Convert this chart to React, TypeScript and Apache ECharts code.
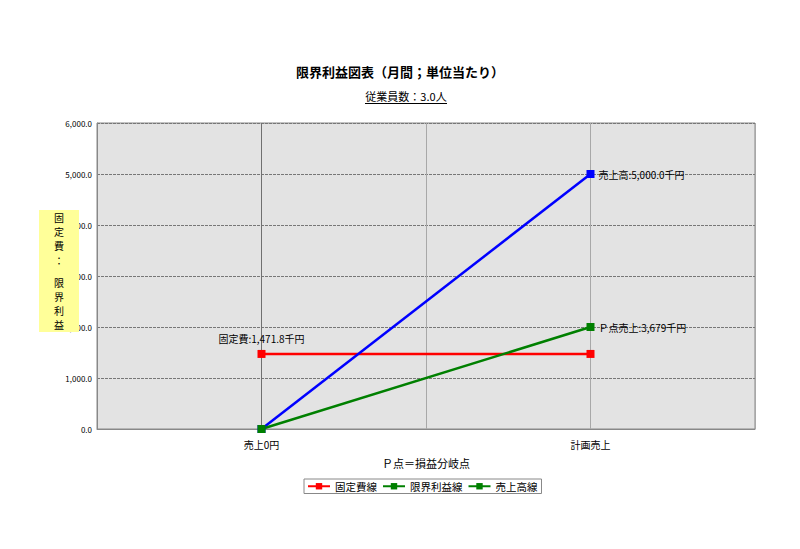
import React, { useEffect, useRef } from "react";
import * as echarts from "echarts";

const categories = ["", "売上0円", "", "計画売上", ""];
const fixedCost = [null, 1471.8, null, 1471.8, null];
const sales = [null, 0, null, 5000, null];
const marginalProfit = [null, 0, null, 2000, null];
const breakEvenSales = 3679;
const yTicks = { min: 0, max: 6000, interval: 1000 };
const yNameChars = ["固", "定", "費", "：", "限", "界", "利", "益"];

const fmt1 = (v: number) =>
  v.toLocaleString("en-US", { minimumFractionDigits: 1, maximumFractionDigits: 1 });

const FONT = "'Noto Sans CJK JP', 'Noto Sans', sans-serif";

export default function App() {
  const ref = useRef<HTMLDivElement>(null);
  useEffect(() => {
    if (!ref.current) return;
    const chart = echarts.init(ref.current, undefined, { renderer: "svg" });
    const labelStyle = { color: "#000", fontSize: 10, fontFamily: FONT };
    const yNameOffsets = [217, 231, 245, 260, 282, 296, 310, 324];
    const option: any = {
      animation: false,
      backgroundColor: "#fff",
      textStyle: { fontFamily: FONT },
      title: {
        text: "限界利益図表（月間；単位当たり）",
        left: "center",
        top: 60,
        textStyle: { fontSize: 13, fontWeight: "bold", color: "#000", fontFamily: FONT },
      },
      grid: {
        left: 97,
        right: 45,
        top: 123,
        bottom: 120,
        show: true,
        backgroundColor: "#e3e3e3",
        borderColor: "#888",
        borderWidth: 1,
      },
      xAxis: {
        type: "category",
        data: categories,
        boundaryGap: false,
        axisLine: { show: true, lineStyle: { color: "#888" } },
        axisTick: { show: false },
        axisLabel: { color: "#000", fontSize: 10, margin: 10, fontFamily: FONT, interval: 0 },
        splitLine: {
          show: true,
          lineStyle: { color: ["#a8a8a8", "#707070", "#a8a8a8", "#a8a8a8", "#a8a8a8"], width: 1 },
        },
        name: "Ｐ点＝損益分岐点",
        nameLocation: "middle",
        nameGap: 28,
        nameTextStyle: { color: "#000", fontSize: 11, fontFamily: FONT },
      },
      yAxis: {
        type: "value",
        min: yTicks.min,
        max: yTicks.max,
        interval: yTicks.interval,
        axisLine: { show: true, lineStyle: { color: "#888" } },
        axisTick: { show: false },
        axisLabel: {
          color: "#000",
          fontSize: 8,
          margin: 5,
          fontFamily: FONT,
          formatter: (v: number) => fmt1(v),
        },
        splitLine: { show: true, lineStyle: { color: "#777", type: [3, 1], width: 1 } },
      },
      legend: {
        left: 304,
        top: 479,
        orient: "horizontal",
        padding: [2, 4, 2, 3],
        itemGap: 5,
        itemWidth: 22,
        itemHeight: 8,
        borderColor: "#888",
        borderWidth: 1,
        textStyle: { color: "#000", fontSize: 10.5, fontFamily: FONT },
        data: [
          { name: "固定費線" },
          { name: "限界利益線" },
          { name: "売上高線", itemStyle: { color: "#008000" }, lineStyle: { color: "#008000" } },
        ],
      },
      series: [
        {
          name: "固定費線",
          type: "line",
          connectNulls: true,
          symbol: "rect",
          symbolSize: 8,
          color: "#ff0000",
          lineStyle: { color: "#ff0000", width: 2.5 },
          itemStyle: { color: "#ff0000" },
          data: fixedCost.map((v, i) =>
            i === 1
              ? {
                  value: v,
                  label: {
                    show: true,
                    position: "top",
                    distance: 6,
                    ...labelStyle,
                    formatter: () => `固定費:${fmt1(fixedCost[1] as number)}千円`,
                  },
                }
              : v
          ),
        },
        {
          name: "売上高線",
          type: "line",
          connectNulls: true,
          symbol: "rect",
          symbolSize: 8,
          color: "#0000ff",
          lineStyle: { color: "#0000ff", width: 2.5 },
          itemStyle: { color: "#0000ff" },
          data: sales.map((v, i) =>
            i === 3
              ? {
                  value: v,
                  label: {
                    show: true,
                    position: "right",
                    distance: 4,
                    ...labelStyle,
                    formatter: () => `売上高:${fmt1(sales[3] as number)}千円`,
                  },
                }
              : v
          ),
        },
        {
          name: "限界利益線",
          type: "line",
          connectNulls: true,
          symbol: "rect",
          symbolSize: 8,
          color: "#008000",
          lineStyle: { color: "#008000", width: 2.5 },
          itemStyle: { color: "#008000" },
          data: marginalProfit.map((v, i) =>
            i === 3
              ? {
                  value: v,
                  label: {
                    show: true,
                    position: "right",
                    distance: 4,
                    ...labelStyle,
                    formatter: () => `Ｐ点売上:${breakEvenSales.toLocaleString("en-US")}千円`,
                  },
                }
              : v
          ),
        },
      ],
      graphic: [
        {
          type: "text",
          x: 406,
          y: 96,
          style: {
            text: "従業員数：3.0人",
            fill: "#000",
            font: `11px ${FONT}`,
            align: "center",
            verticalAlign: "middle",
          },
        },
        {
          type: "line",
          shape: { x1: 365, y1: 103.5, x2: 447, y2: 103.5 },
          style: { stroke: "#000", lineWidth: 1 },
        },
        {
          type: "rect",
          shape: { x: 39, y: 210, width: 40, height: 122 },
          style: { fill: "#ffff99" },
          z: 100,
        },
        ...yNameChars.map((c, i) => ({
          type: "text",
          x: 59,
          y: yNameOffsets[i],
          z: 101,
          style: {
            text: c,
            fill: "#000",
            font: `10px ${FONT}`,
            align: "center",
            verticalAlign: "middle",
          },
        })),
      ],
    };
    chart.setOption(option);
    return () => chart.dispose();
  }, []);
  return (
    <div
      ref={ref}
      style={{ position: "fixed", left: 0, top: 0, width: 800, height: 549 }}
    />
  );
}
